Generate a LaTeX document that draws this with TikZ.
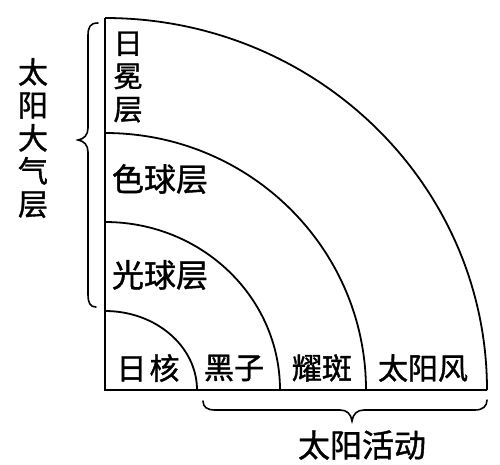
\documentclass[tikz,border=0pt]{standalone}
\usepackage{fontspec}
\newfontfamily\cjk[FakeBold=1.2]{Noto Sans CJK SC}
\begin{document}
\begin{tikzpicture}[x=1pt,y=-1pt,
  line/.style={line width=1.8pt,black},
  lbl/.style={font=\cjk\fontsize{30}{32}\selectfont,inner sep=0pt},
  vlbl/.style={font=\cjk\fontsize{29}{33}\selectfont,inner sep=0pt,align=center},
  brace/.style={line width=1.6pt,black,line cap=round}]
\useasboundingbox (0,0) rectangle (500,464);
% axes
\coordinate (O) at (105,390);
\coordinate (T) at (105,18);
\coordinate (R) at (487,390);
\draw[line] (T) -- (O) -- (R);
% arcs
\draw[line] (105,311) arc[start angle=-90,end angle=0,x radius=92,y radius=79];
\draw[line] (105,222) arc[start angle=-90,end angle=0,x radius=175,y radius=168];
\draw[line] (105,133) arc[start angle=-90,end angle=0,x radius=261,y radius=257];
\draw[line] (105,18) arc[start angle=-90,end angle=0,x radius=382,y radius=372];
% left brace
\draw[brace] (98,23) .. controls (90,23) and (88,27) .. (88,36) -- (88,128)
  .. controls (88,135) and (84,139) .. (78,140)
  .. controls (84,141) and (88,145) .. (88,152) -- (88,294)
  .. controls (88,303) and (90,307) .. (96,307);
% bottom brace
\draw[brace] (203,401) .. controls (203,407) and (207,410) .. (215,410) -- (340,410)
  .. controls (347,410) and (351,414) .. (352,421)
  .. controls (353,414) and (357,410) .. (364,410) -- (475,410)
  .. controls (483,410) and (487,406) .. (487,400);
% labels
\node[vlbl,font=\cjk\fontsize{30}{33}\selectfont] (atm) at (33,138) {太\\阳\\大\\气\\层};
\node[vlbl] (corona) at (128,77) {日\\冕\\层};
\node[lbl,font=\cjk\fontsize{32}{34}\selectfont] (chromo) at (160,179) {色球层};
\node[lbl,font=\cjk\fontsize{32}{34}\selectfont] (photo) at (160,275) {光球层};
\node[lbl] (core) at (148,368) {日\hspace{3pt}核};
\node[lbl] (spots) at (234,368) {黑子};
\node[lbl] (flare) at (322,368) {耀斑};
\node[lbl] (wind) at (423,368) {太阳风};
\node[lbl,font=\cjk\fontsize{32}{34}\selectfont] (act) at (362,445) {太阳活动};
\end{tikzpicture}
\end{document}
